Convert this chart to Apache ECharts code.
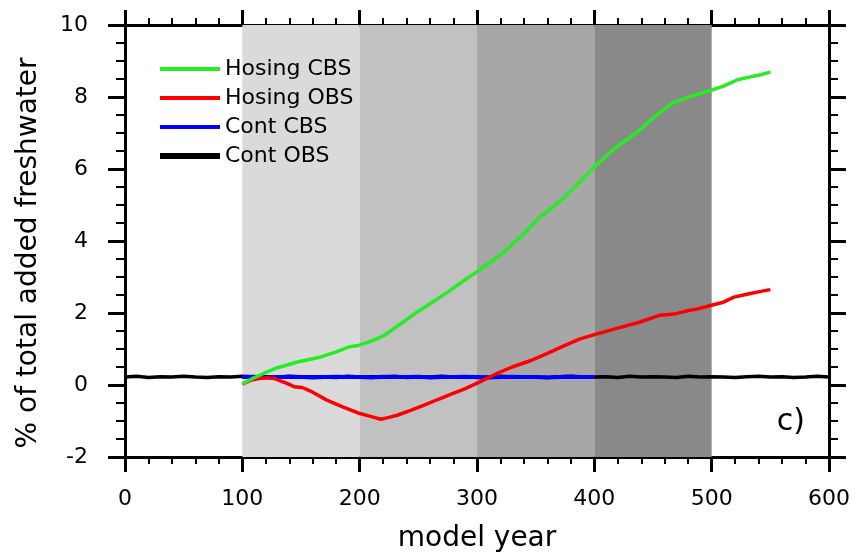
<!DOCTYPE html>
<html>
<head>
<meta charset="utf-8">
<script src="https://cdn.jsdelivr.net/npm/echarts@6/dist/echarts.min.js"></script>
<style>html,body{margin:0;padding:0;background:#fff;}#c{width:856px;height:554px;}</style>
</head>
<body>
<div id="c"></div>
<script>
// ---- data ----
const hosingCbsYears = [100,110,118,130,147,167,180,191,199,210,221,235,249,262,275,288,302,315,324,340,354,365,374,387,400,417,431,440,451,466,485,500,510,522,533,542,550];
const hosingCbsValues = [0.03,0.2,0.32,0.48,0.64,0.78,0.92,1.06,1.1,1.22,1.38,1.7,2.03,2.3,2.58,2.88,3.19,3.5,3.72,4.2,4.68,4.95,5.2,5.62,6.06,6.57,6.89,7.12,7.44,7.82,8.05,8.19,8.3,8.48,8.56,8.62,8.69];

const hosingObsYears = [100,107,114,121,128,133,140,144,151,160,172,185,198,210,218,225,232,244,255,266,277,290,302,317,330,346,360,375,388,400,420,439,456,468,479,489,499,510,519,533,542,550];
const hosingObsValues = [0.02,0.13,0.18,0.2,0.17,0.11,0.02,-0.05,-0.07,-0.2,-0.42,-0.6,-0.77,-0.88,-0.95,-0.9,-0.84,-0.7,-0.56,-0.41,-0.27,-0.1,0.08,0.32,0.5,0.68,0.88,1.1,1.28,1.4,1.58,1.75,1.94,1.97,2.06,2.12,2.21,2.3,2.44,2.54,2.6,2.65];

const contCbsYears = [100,110,120,130,140,150,160,170,180,190,200,210,220,230,240,250,260,270,280,290,300,310,320,330,340,350,360,370,380,390,400];
const contCbsValues = [0.22,0.23,0.21,0.22,0.23,0.22,0.21,0.22,0.23,0.22,0.22,0.21,0.23,0.22,0.22,0.23,0.21,0.22,0.22,0.23,0.22,0.21,0.22,0.23,0.22,0.22,0.21,0.22,0.23,0.22,0.22];

const contObsYears = [0,10,20,30,40,50,60,70,80,90,100,110,120,130,140,150,160,170,180,190,200,210,220,230,240,250,260,270,280,290,300,310,320,330,340,350,360,370,380,390,400,410,420,430,440,450,460,470,480,490,500,510,520,530,540,550,560,570,580,590,600];
const contObsValues = [0.22,0.24,0.21,0.23,0.22,0.24,0.22,0.21,0.23,0.22,0.24,0.22,0.23,0.21,0.24,0.22,0.23,0.22,0.21,0.24,0.22,0.23,0.22,0.24,0.21,0.23,0.22,0.24,0.22,0.23,0.21,0.22,0.24,0.22,0.23,0.22,0.21,0.23,0.24,0.22,0.22,0.23,0.21,0.24,0.22,0.23,0.22,0.21,0.24,0.22,0.23,0.22,0.21,0.23,0.24,0.22,0.23,0.21,0.22,0.24,0.22];

const shadeRanges = [[100,200],[200,300],[300,400],[400,500]];
const shadeColors = ['#dadada','#c1c1c1','#a7a7a7','#898989'];

const xTicks = [0,100,200,300,400,500,600];
const yTicks = [-2,0,2,4,6,8,10];

const seriesNames = ['Hosing CBS','Hosing OBS','Cont CBS','Cont OBS'];
// ---- chart ----
const pairs = (xs, ys) => xs.map((x, i) => [x, ys[i]]);
const FONT = 'DejaVu Sans';
const axisCommon = {
  axisLine: { show: true, onZero: false, lineStyle: { color: '#000', width: 3 } },
  splitLine: { show: false },
};
const chart = echarts.init(document.getElementById('c'), null, { renderer: 'canvas' });
chart.setOption({
  backgroundColor: '#fff',
  animation: false,
  title: {
    text: 'c)', right: 46, top: 402,
    textStyle: { fontFamily: FONT, fontSize: 30, fontWeight: 'normal', color: '#000' }
  },
  grid: { left: 125, right: 27, top: 25, bottom: 97, containLabel: false, outerBoundsMode: 'none' },
  legend: {
    orient: 'vertical', left: 157, top: 58, padding: 0, itemWidth: 60, itemHeight: 14, itemGap: 7,
    itemStyle: { opacity: 0 },
    lineStyle: { width: 4 },
    textStyle: { fontFamily: FONT, fontSize: 22, color: '#000', lineHeight: 22 },
    data: [
      { name: seriesNames[0] }, { name: seriesNames[1] }, { name: seriesNames[2] },
      { name: seriesNames[3], lineStyle: { width: 6 } }
    ]
  },
  xAxis: [
    Object.assign({
      type: 'value', min: xTicks[0], max: xTicks[xTicks.length - 1], interval: 100, position: 'bottom',
      name: 'model year', nameLocation: 'middle', nameGap: 68,
      nameTextStyle: { fontFamily: FONT, fontSize: 28, color: '#000' },
      axisTick: { show: true, inside: false, length: 15, lineStyle: { color: '#000', width: 3 } },
      minorTick: { show: true, splitNumber: 5, length: 7, lineStyle: { color: '#000', width: 2 } },
      axisLabel: { margin: 31, fontFamily: FONT, fontSize: 22, color: '#000' }
    }, axisCommon),
    Object.assign({
      type: 'value', min: xTicks[0], max: xTicks[xTicks.length - 1], interval: 100, position: 'top',
      axisTick: { show: true, inside: false, length: 15, lineStyle: { color: '#000', width: 3 } },
      minorTick: { show: true, splitNumber: 5, length: 7, lineStyle: { color: '#000', width: 2 } },
      axisLabel: { show: false }
    }, axisCommon)
  ],
  yAxis: [
    Object.assign({
      type: 'value', min: yTicks[0], max: yTicks[yTicks.length - 1], interval: 2, position: 'left',
      name: '% of total added freshwater', nameLocation: 'middle', nameGap: 82,
      nameTextStyle: { fontFamily: FONT, fontSize: 28, color: '#000', padding: [0, 24, 0, 0] },
      axisTick: { show: true, inside: false, length: 17, lineStyle: { color: '#000', width: 3 } },
      minorTick: { show: true, splitNumber: 4, length: 9, lineStyle: { color: '#000', width: 2 } },
      axisLabel: { margin: 37, fontFamily: FONT, fontSize: 22, color: '#000' }
    }, axisCommon),
    Object.assign({
      type: 'value', min: yTicks[0], max: yTicks[yTicks.length - 1], interval: 2, position: 'right',
      axisTick: { show: true, inside: false, length: 17, lineStyle: { color: '#000', width: 3 } },
      minorTick: { show: true, splitNumber: 4, length: 9, lineStyle: { color: '#000', width: 2 } },
      axisLabel: { show: false }
    }, axisCommon)
  ],
  series: [
    {
      type: 'line', name: '__shade', data: [], z: 1, silent: true,
      markArea: {
        silent: true,
        data: shadeRanges.map((r, i) => [
          { xAxis: r[0], itemStyle: { color: shadeColors[i], opacity: 1 } },
          { xAxis: r[1] }
        ])
      }
    },
    {
      type: 'line', name: seriesNames[3], data: pairs(contObsYears, contObsValues), z: 3,
      symbol: 'none', lineStyle: { color: '#000', width: 3.5 }, itemStyle: { color: '#000' }
    },
    {
      type: 'line', name: seriesNames[2], data: pairs(contCbsYears, contCbsValues), z: 4,
      symbol: 'none', lineStyle: { color: '#0000ff', width: 4 }, itemStyle: { color: '#0000ff' }
    },
    {
      type: 'line', name: seriesNames[1], data: pairs(hosingObsYears, hosingObsValues), z: 5,
      symbol: 'none', lineStyle: { color: '#ff0000', width: 3.5 }, itemStyle: { color: '#ff0000' }
    },
    {
      type: 'line', name: seriesNames[0], data: pairs(hosingCbsYears, hosingCbsValues), z: 6,
      symbol: 'none', lineStyle: { color: '#22ee22', width: 3.5 }, itemStyle: { color: '#22ee22' }
    }
  ]
});
</script>
</body>
</html>
